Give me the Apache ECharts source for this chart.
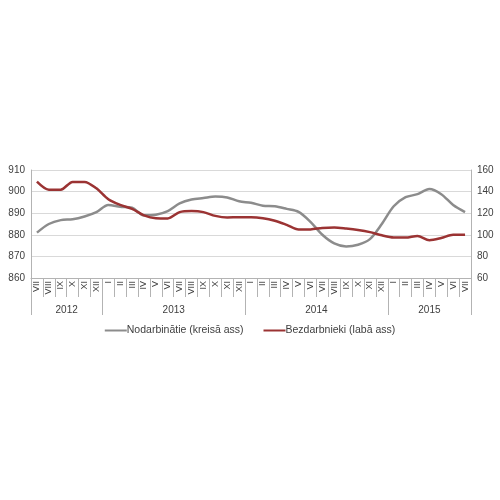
<!DOCTYPE html>
<html>
<head>
<meta charset="utf-8">
<script src="https://cdn.jsdelivr.net/npm/echarts@6/dist/echarts.min.js"></script>
<style>
  html, body { margin: 0; padding: 0; background: #fff; }
  #chart { width: 500px; height: 500px; }
</style>
</head>
<body>
<div id="chart"></div>
<script>
// months VII 2012 .. VII 2015
var months = [
  "VII", "VIII", "IX", "X", "XI", "XII",
  "I", "II", "III", "IV", "V", "VI", "VII", "VIII", "IX", "X", "XI", "XII",
  "I", "II", "III", "IV", "V", "VI", "VII", "VIII", "IX", "X", "XI", "XII",
  "I", "II", "III", "IV", "V", "VI", "VII"
];
var years = ["2012", "2013", "2014", "2015"];
var yearBounds = [0, 6, 18, 30, 37];
var yearCenters = [3, 12, 24, 33.5];

// employed, thousands (left axis)
var employed = [
  881, 885, 886.8, 887.2, 888.5, 890.5,
  893.8, 893, 892.5, 889, 889.3, 891, 894.5, 896.3, 897, 897.7, 897.3, 895.5,
  894.8, 893.5, 893.2, 892, 890.6, 886, 880, 876, 874.6, 875.4, 878, 885,
  893.2, 897.4, 898.8, 901.2, 898.8, 893.8, 890.5
];
// unemployed, thousands (right axis)
var unemployed = [
  149.2, 141.8, 141.8, 149, 149, 143,
  133, 127.7, 124, 118, 115.4, 115.2, 121, 122, 121, 117.5, 116, 116.3,
  116.3, 115.4, 113, 109.2, 105, 105, 106.4, 106.7, 105.8, 104.5, 102.5, 99.5,
  97.5, 97.4, 99, 95, 97, 100, 100
];

var axisGray = "#b3b3b3";
var textColor = "#404040";

var chart = echarts.init(document.getElementById("chart"));
chart.setOption({
  animation: false,
  textStyle: { fontFamily: "Liberation Sans, Arial, sans-serif" },
  grid: { left: 31, right: 29, top: 170, bottom: 222 },
  legend: {
    top: 320,
    left: "center",
    itemWidth: 22,
    itemHeight: 2,
    itemGap: 20,
    icon: "rect",
    textStyle: { fontSize: 10.5, color: textColor, padding: [0, 0, 0, -5] },
    data: ["Nodarbinātie (kreisā ass)", "Bezdarbnieki (labā ass)"]
  },
  xAxis: [
    {
      type: "category",
      data: months,
      boundaryGap: true,
      axisLine: { lineStyle: { color: axisGray } },
      axisTick: { show: true, interval: 0, length: 19, lineStyle: { color: axisGray, width: 1 } },
      axisLabel: { interval: 0, rotate: 90, fontSize: 9, color: textColor, margin: 3 }
    },
    {
      type: "value",
      position: "bottom",
      min: 0,
      max: 37,
      splitLine: { show: false },
      axisLine: { show: false },
      axisTick: { show: true, length: 37, customValues: yearBounds, lineStyle: { color: axisGray } },
      axisLabel: {
        customValues: yearCenters,
        margin: 27,
        fontSize: 10,
        color: textColor,
        formatter: function (v) { return years[yearCenters.indexOf(v)]; }
      }
    }
  ],
  yAxis: [
    {
      type: "value",
      min: 860,
      max: 910,
      interval: 10,
      axisLine: { show: true, lineStyle: { color: axisGray } },
      axisTick: { show: false },
      axisLabel: { fontSize: 10, color: textColor, margin: 6 },
      splitLine: { lineStyle: { color: "#d9d9d9" } }
    },
    {
      type: "value",
      min: 60,
      max: 160,
      interval: 20,
      axisLine: { show: true, lineStyle: { color: axisGray } },
      axisTick: { show: false },
      axisLabel: { fontSize: 10, color: textColor, margin: 6 },
      splitLine: { show: false }
    }
  ],
  series: [
    {
      name: "Nodarbinātie (kreisā ass)",
      type: "line",
      xAxisIndex: 0,
      yAxisIndex: 0,
      data: employed,
      smooth: 0.3,
      symbol: "none",
      itemStyle: { color: "#8c8c8c" },
      lineStyle: { color: "#8c8c8c", width: 2.5 }
    },
    {
      name: "Bezdarbnieki (labā ass)",
      type: "line",
      xAxisIndex: 0,
      yAxisIndex: 1,
      data: unemployed,
      smooth: 0.3,
      symbol: "none",
      itemStyle: { color: "#9b3333" },
      lineStyle: { color: "#9b3333", width: 2.5 }
    }
  ]
});
</script>
</body>
</html>
